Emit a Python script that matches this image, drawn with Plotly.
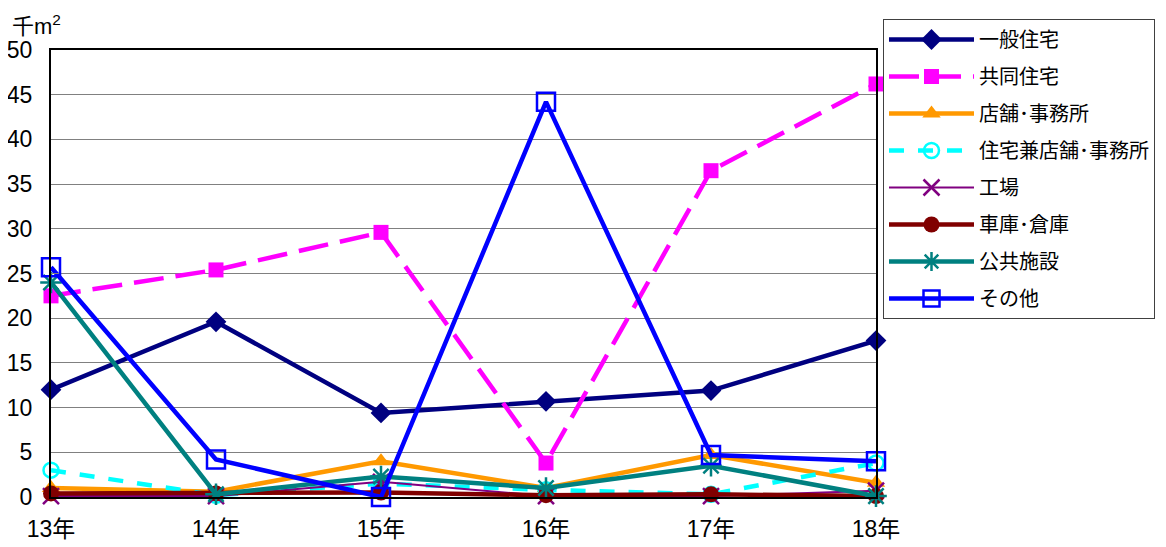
import plotly.graph_objects as go

years = ["13年", "14年", "15年", "16年", "17年", "18年"]

ippan = [12.0, 19.6, 9.4, 10.7, 11.9, 17.5]
kyodo = [22.5, 25.4, 29.6, 3.8, 36.5, 46.2]
tenpo = [1.0, 0.6, 4.0, 1.0, 4.7, 1.6]
kenyo = [3.0, 0.2, 1.5, 0.8, 0.3, 3.8]
kojo = [0.1, 0.1, 1.7, 0.1, 0.1, 0.7]
shako = [0.4, 0.4, 0.5, 0.2, 0.3, 0.1]
kokyo = [24.0, 0.3, 2.3, 1.0, 3.5, 0.1]
sonota = [25.7, 4.2, 0.0, 44.2, 4.7, 4.0]

names = ["一般住宅", "共同住宅", "店舗･事務所", "住宅兼店舗･事務所", "工場", "車庫･倉庫", "公共施設", "その他"]
series = [ippan, kyodo, tenpo, kenyo, kojo, shako, kokyo, sonota]

styles = [
    dict(color="#000080", dash="solid", width=4.5, symbol="diamond", msize=16, mline=None),
    dict(color="#FF00FF", dash="30px,12px", width=4.5, symbol="square", msize=15, mline=None),
    dict(color="#FF9900", dash="solid", width=4.5, symbol="triangle-up", msize=16, mline=None),
    dict(color="#00FFFF", dash="15px,14px", width=4.5, symbol="circle-open", msize=15, mline=2.5),
    dict(color="#800080", dash="solid", width=2, symbol="x-thin-open", msize=16, mline=2.5),
    dict(color="#800000", dash="solid", width=4.5, symbol="circle", msize=16, mline=None),
    dict(color="#008080", dash="solid", width=4.5, symbol="asterisk-open", msize=18, mline=2.5),
    dict(color="#0000FF", dash="solid", width=4.5, symbol="square-open", msize=18, mline=2.5),
]

fig = go.Figure()
for i, (nm, vals, st) in enumerate(zip(names, series, styles)):
    marker = dict(symbol=st["symbol"], size=st["msize"], color=st["color"])
    if st["mline"]:
        marker["line"] = dict(color=st["color"], width=st["mline"])
    fig.add_trace(go.Scatter(
        x=years, y=vals, name=nm, mode="lines+markers",
        line=dict(color=st["color"], width=st["width"], dash=st["dash"]),
        marker=marker, cliponaxis=False, legendgroup=f"g{i}",
    ))

# page body has an 8px margin, so the figure is offset by 8px
W, H = 1158, 539
L, T = 43, 42
PW, PH = 825, 447
font_family = "Liberation Sans, Arial, Noto Sans CJK JP"
fig.update_layout(
    width=W, height=H,
    margin=dict(l=L, r=W - L - PW, t=T, b=H - T - PH, autoexpand=False),
    paper_bgcolor="white", plot_bgcolor="white",
    font=dict(family=font_family, color="black"),
    showlegend=True,
    legend=dict(
        xref="container", yref="container",
        x=(883 - 8) / W, y=1 - (19 - 8) / H, xanchor="left", yanchor="top",
        bgcolor="white", bordercolor="#404040", borderwidth=1,
        font=dict(size=20, family=font_family), tracegroupgap=8,
        itemwidth=85,
    ),
    xaxis=dict(
        type="category", range=[0, 5], showgrid=False, automargin=False,
        showline=True, linecolor="black", linewidth=2, mirror=True,
        ticks="", tickfont=dict(size=23), zeroline=False, ticklabelstandoff=10,
    ),
    yaxis=dict(
        range=[0, 50], dtick=5, showgrid=True, gridcolor="#808080", gridwidth=1,
        showline=True, linecolor="black", linewidth=2, mirror=True, automargin=False,
        ticks="inside", ticklen=8, tickcolor="#808080",
        tickfont=dict(size=23), zeroline=False, ticklabelstandoff=12,
    ),
    annotations=[dict(
        text="千m<sup>2</sup>", x=(10 - 51) / PW, y=(497 - 25) / PH,
        xref="paper", yref="paper", xanchor="left", yanchor="middle",
        showarrow=False, font=dict(size=22),
    )],
)
try:
    fig.update_layout(legend_maxheight=400)
except Exception:
    fig.update_layout(legend=dict(xref="paper", yref="paper", x=(883 - 51) / PW, y=1.0))

fig.write_html("out.html")
